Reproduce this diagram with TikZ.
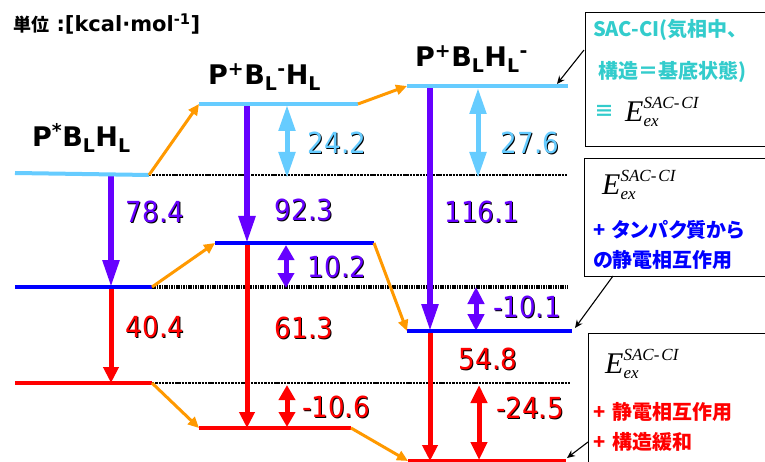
\documentclass[tikz,border=0pt]{standalone}
\usepackage{fontspec}
\usetikzlibrary{arrows.meta}
\setmainfont{DejaVu Sans}
\newfontfamily\numfont{DejaVu Sans}[FakeStretch=0.9]
\newfontfamily\lblfont{DejaVu Sans}
\newfontfamily\jpfont{Noto Sans CJK JP}[RawFeature=+palt]
\newfontfamily\jpfontw{Noto Sans CJK JP}
\newfontfamily\tmfont{Liberation Serif}
\definecolor{lblue}{RGB}{102,204,255}
\definecolor{purp}{RGB}{102,0,255}
\definecolor{blu}{RGB}{0,0,255}
\definecolor{rd}{RGB}{255,0,0}
\definecolor{orng}{RGB}{255,153,0}
\definecolor{tealc}{RGB}{51,204,204}
\newcommand\shtext[2]{\rlap{\kern1pt\raisebox{-1pt}{\color{black}#2}}\textcolor{#1}{#2}}
\newcommand\Eex{{\tmfont\itshape\fontsize{30}{30}\selectfont E}{\tmfont\itshape\fontsize{17}{17}\selectfont\rlap{\raisebox{13pt}{SAC-\kern2pt CI}}\raisebox{-5pt}{ex}}}
\tikzset{
  level/.style={line width=4pt},
  dotl/.style={line width=2.2pt, dash pattern=on 2.4pt off 0.9pt},
  dotthick/.style={line width=4pt, dash pattern=on 1.6pt off 0.8pt},
  vpurp/.style={purp, line width=5.5pt, -{Triangle[length=27pt,width=16pt]}},
  vred/.style={rd, line width=5pt, -{Triangle[length=16pt,width=15pt]}},
  dbl/.style={line width=5pt, {Triangle[length=#1,width=16pt]}-{Triangle[length=#1,width=16pt]}},
  orarrow/.style={orng, line width=3pt, -{Triangle[length=11pt,width=10pt]}},
  thinarrow/.style={black, line width=1.1pt, -{Stealth[length=8pt,width=7pt]}},
  num/.style={inner sep=0pt, font=\numfont\fontsize{29}{29}\selectfont},
  lbl/.style={inner sep=0pt, anchor=base west, font=\lblfont\bfseries\fontsize{27}{27}\selectfont},
  jpt/.style={inner sep=0pt, anchor=west, font=\jpfont\bfseries\fontsize{20}{20}\selectfont},
  infobox/.style={draw=black, line width=1pt, fill=white, anchor=north west, minimum width=200pt, inner sep=0pt},
  eform/.style={inner sep=0pt, anchor=base west},
}
\begin{document}
\begin{tikzpicture}[x=1pt,y=-1pt]
\useasboundingbox (0,0) rectangle (765,462);
\clip (0,0) rectangle (765,462);
\fill[white] (0,0) rectangle (765,462);

% title
\node[inner sep=0pt, anchor=west] (title) at (13,24) {\bfseries{\jpfontw\fontsize{18}{18}\selectfont 単位}\fontsize{21}{21}\selectfont\ :[kcal·mol\textsuperscript{-1}]};

% state labels
\node[lbl] (s1) at (32,147) {P\textsuperscript{*}B\textsubscript{L}H\textsubscript{L}};
\node[lbl] (s2) at (208,85) {P\textsuperscript{+}B\textsubscript{L}\textsuperscript{-}H\textsubscript{L}};
\node[lbl] (s3) at (415,67) {P\textsuperscript{+}B\textsubscript{L}H\textsubscript{L}\textsuperscript{-}};

% level end points
\coordinate (L1a) at (15,173);  \coordinate (L1b) at (149,175);
\coordinate (M1a) at (15,287);  \coordinate (M1b) at (152,287);
\coordinate (R1a) at (15,383);  \coordinate (R1b) at (152,383);
\coordinate (L2a) at (199,104); \coordinate (L2b) at (358,104);
\coordinate (M2a) at (215,243); \coordinate (M2b) at (374,243);
\coordinate (R2a) at (199,428); \coordinate (R2b) at (351,428);
\coordinate (L3a) at (407,86);  \coordinate (L3b) at (568,86);
\coordinate (M3a) at (407,331); \coordinate (M3b) at (572,331);
\coordinate (R3a) at (408,461); \coordinate (R3b) at (566,461);

% dotted reference lines
\coordinate (D1b) at (567,175);
\coordinate (D2b) at (568,287);
\coordinate (D3b) at (571,383);
\draw[dotl] (L1b) -- (D1b);
\draw[dotthick] (M1b) -- (D2b);
\draw[dotl] (R1b) -- (D3b);

% vertical transition arrows
\coordinate (a1t) at (111,174); \coordinate (a1m) at (111,287); \coordinate (a1b) at (111,383);
\coordinate (a2t) at (247,104); \coordinate (a2m) at (247,243); \coordinate (a2b) at (247,428);
\coordinate (a3t) at (430,86);  \coordinate (a3m) at (430,331); \coordinate (a3b) at (430,461);
\draw[vpurp] (a1t) -- (a1m);
\draw[vred] (a1m) -- (a1b);
\draw[vpurp] (a2t) -- (a2m);
\draw[vred] (a2m) -- (a2b);
\draw[vpurp] (a3t) -- (a3m);
\draw[vred] (a3m) -- (a3b);

% difference double arrows
\coordinate (d21t) at (287,105); \coordinate (d21b) at (287,178);
\coordinate (d22t) at (286,245); \coordinate (d22b) at (286,288);
\coordinate (d23t) at (287,385); \coordinate (d23b) at (287,427);
\coordinate (d31t) at (478,88);  \coordinate (d31b) at (478,178);
\coordinate (d32t) at (476,287); \coordinate (d32b) at (476,331);
\coordinate (d33t) at (479,385); \coordinate (d33b) at (479,460);
\draw[dbl=26pt, lblue] (d21t) -- (d21b);
\draw[dbl=15pt, purp] (d22t) -- (d22b);
\draw[dbl=15pt, rd] (d23t) -- (d23b);
\draw[dbl=26pt, lblue] (d31t) -- (d31b);
\draw[dbl=17pt, purp] (d32t) -- (d32b);
\draw[dbl=18pt, rd] (d33t) -- (d33b);

% levels
\draw[level, lblue] (L1a) -- (L1b);
\draw[level, blu] (M1a) -- (M1b);
\draw[level, rd] (R1a) -- (R1b);
\draw[level, lblue] (L2a) -- (L2b);
\draw[level, blu] (M2a) -- (M2b);
\draw[level, rd] (R2a) -- (R2b);
\draw[level, lblue] (L3a) -- (L3b);
\draw[level, blu] (M3a) -- (M3b);
\draw[level, rd] (R3a) -- (R3b);

% relaxation arrows
\draw[orarrow] (L1b) -- (L2a);
\draw[orarrow] (M1b) -- (M2a);
\draw[orarrow] (R1b) -- (R2a);
\draw[orarrow] (L2b) -- (L3a);
\draw[orarrow] (M2b) -- (M3a);
\draw[orarrow] (R2b) -- (R3a);

% numbers
\node[num] (n1) at (155,212) {\shtext{purp}{78.4}};
\node[num] (n2) at (155,327) {\shtext{rd}{40.4}};
\node[num] (n3) at (304,210) {\shtext{purp}{92.3}};
\node[num] (n4) at (304,328) {\shtext{rd}{61.3}};
\node[num] (n5) at (337,143) {\shtext{lblue}{24.2}};
\node[num] (n6) at (337,267) {\shtext{purp}{10.2}};
\node[num] (n7) at (336,407) {\shtext{rd}{-10.6}};
\node[num] (n8) at (482,212) {\shtext{purp}{116.1}};
\node[num] (n9) at (488,359) {\shtext{rd}{54.8}};
\node[num] (n10) at (530,143) {\shtext{lblue}{27.6}};
\node[num] (n11) at (527,307) {\shtext{purp}{-10.1}};
\node[num] (n12) at (530,408) {\shtext{rd}{-24.5}};

% info boxes
\node[infobox, minimum height=134pt] (box1) at (585,12) {};
\node[infobox, minimum height=118pt] (box2) at (584,158) {};
\node[infobox, minimum height=140pt] (box3) at (588,333) {};

\node[jpt, text=tealc] (b1a) at (593,30) {SAC-CI(気相中、};
\node[jpt, text=tealc] (b1b) at (598,72) {構造＝基底状態)};
\node[jpt, text=tealc] (b1c) at (594,112) {≡};
\node[eform] (b1e) at (625,122) {\Eex};

\node[eform] (b2e) at (602,195) {\Eex};
\node[jpt, text=blu] (b2a) at (593,230) {+\kern7pt タンパク質から};
\node[jpt, text=blu] (b2b) at (593,260) {の静電相互作用};

\node[eform] (b3e) at (605,373) {\Eex};
\node[jpt, text=rd] (b3a) at (593,412) {+\kern7pt 静電相互作用};
\node[jpt, text=rd] (b3b) at (593,442) {+\kern7pt 構造緩和};

% pointer arrows
\coordinate (p1) at (584,50);  \coordinate (q1) at (557,84);
\coordinate (p2) at (613,276); \coordinate (q2) at (575,328);
\coordinate (p3) at (588,442); \coordinate (q3) at (567,458);
\draw[thinarrow] (p1) -- (q1);
\draw[thinarrow] (p2) -- (q2);
\draw[thinarrow] (p3) -- (q3);
\end{tikzpicture}
\end{document}
